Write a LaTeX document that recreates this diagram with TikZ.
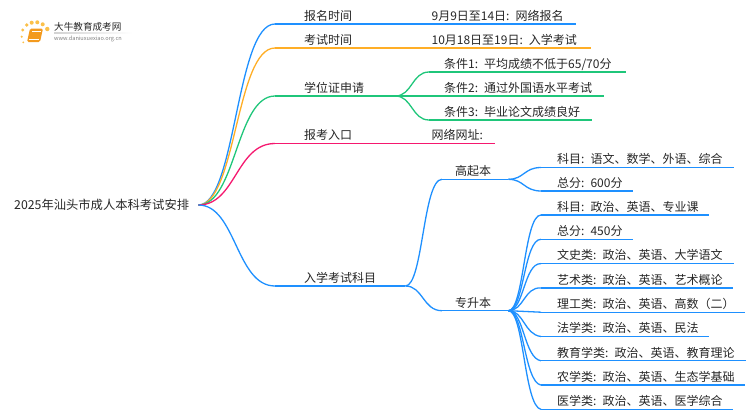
\documentclass[tikz,border=0pt]{standalone}
\usepackage{fontspec}
\usetikzlibrary{positioning}
\setmainfont{Noto Sans CJK SC}
\definecolor{blueln}{HTML}{1E90FF}
\definecolor{orangeln}{HTML}{FFAE26}
\definecolor{greenln}{HTML}{1FC67A}
\definecolor{pinkln}{HTML}{F5186F}
\definecolor{inkc}{HTML}{262626}
\definecolor{sunc}{HTML}{FBC04A}
\definecolor{bookc}{HTML}{F39A1E}
\begin{document}
\begin{tikzpicture}[x=1pt, y=-1pt, font=\fontsize{12}{14}\selectfont, text=inkc,
    main/.style = {anchor=south west, inner sep=0pt, text height=10.5pt, text depth=3.5pt, align=left},
    lead/.style = {main, execute at begin node={\hspace*{29pt}}},
    mid/.style = {main, execute at begin node={\hspace*{13pt}}},
    note/.style = {main, execute at begin node={\hspace*{11pt}}},
    cond/.style = {main, execute at begin node={\hspace*{15pt}}},
    leaf/.style = {main, execute at begin node={\hspace*{16pt}}},
    ln/.style = {line width=1.3pt}]
    \useasboundingbox (0,0) rectangle (750,410);
    % logo
    \fill[sunc] (22.7,30) circle (1.6pt);
    \fill[sunc] (26.7,25) circle (1.9pt);
    \fill[sunc] (31.7,22.7) circle (2pt);
    \fill[sunc] (37.3,22.3) circle (2pt);
    \fill[sunc] (42.7,24.3) circle (2pt);
    \fill[sunc] (47.3,29) circle (2.2pt);
    \fill[sunc] (21.7,36.7) circle (1.2pt);
    \fill[sunc] (23.3,42.3) circle (1pt);
    \fill[bookc, rounded corners=1.5pt] (30,28.5) -- (43,28.5) -- (40,42) -- (27,42) -- cycle;
    \draw[white, line width=0.6pt] (32,31.5) -- (41,31.5);
    \draw[white, line width=0.6pt] (29,39.5) -- (38.5,39.5);
    \node[anchor=west, inner sep=0pt, font=\fontsize{9.6}{11}\selectfont] (logoname) at (54,27) {大牛教育成考网};
    \node[anchor=west, inner sep=0pt, font=\fontsize{5.6}{6}\selectfont, text=gray] (logourl) at (54,38.5) {www.daniuxuexiao.org.cn};
    \shade[left color=gray!35, right color=white] (54,32.9) rectangle (132,33.6);
    % root
    \node[anchor=west, inner sep=0pt, text width=184pt, align=left, font=\fontsize{12.3}{14}\selectfont] (root) at (14,205) {2025年汕头市成人本科考试安排};
    % first level
    \node[lead, text width=145pt] (t0) at (275,24) {报名时间};
    \node[lead, text width=145pt] (t1) at (275,48) {考试时间};
    \node[lead, text width=120pt] (t2) at (275,96) {学位证申请};
    \node[lead, text width=145pt] (t3) at (275,143.5) {报考入口};
    \node[lead, text width=130pt] (t4) at (275,286) {入学考试科目};
    % second level
    \node[note, text width=155pt] (d0) [right=0pt of t0.south east, anchor=south west] {9月9日至14日: 网络报名};
    \node[note, text width=170pt] (d1) [right=0pt of t1.south east, anchor=south west] {10月18日至19日: 入学考试};
    \node[note, text width=74pt] (d3) [right=0pt of t3.south east, anchor=south west] {网络网址:};
    \node[cond, text width=197pt] (c0) at (429,72) {条件1: 平均成绩不低于65/70分};
    \node[cond, text width=175pt] (c1) at (429,96) {条件2: 通过外国语水平考试};
    \node[cond, text width=163pt] (c2) at (429,120) {条件3: 毕业论文成绩良好};
    \node[mid, text width=66pt] (g0) at (442,179.3) {高起本};
    \node[mid, text width=66pt] (g1) at (442,310.7) {专升本};
    % third level
    \node[leaf, text width=193pt] (k0) at (541,167.5) {科目: 语文、数学、外语、综合};
    \node[leaf, text width=92pt] (k1) at (541,191) {总分: 600分};
    \node[leaf, text width=168pt] (z0) at (541,215) {科目: 政治、英语、专业课};
    \node[leaf, text width=92pt] (z1) [below=9.9pt of z0.south west, anchor=north west] {总分: 450分};
    \node[leaf, text width=193pt] (z2) [below=9.9pt of z1.south west, anchor=north west] {文史类: 政治、英语、大学语文};
    \node[leaf, text width=192pt] (z3) [below=9.9pt of z2.south west, anchor=north west] {艺术类: 政治、英语、艺术概论};
    \node[leaf, text width=204pt] (z4) [below=9.9pt of z3.south west, anchor=north west] {理工类: 政治、英语、高数（二）};
    \node[leaf, text width=168pt] (z5) [below=9.9pt of z4.south west, anchor=north west] {法学类: 政治、英语、民法};
    \node[leaf, text width=205pt] (z6) [below=9.9pt of z5.south west, anchor=north west] {教育学类: 政治、英语、教育理论};
    \node[leaf, text width=204pt] (z7) [below=9.9pt of z6.south west, anchor=north west] {农学类: 政治、英语、生态学基础};
    \node[leaf, text width=192pt] (z8) [below=9.9pt of z7.south west, anchor=north west] {医学类: 政治、英语、医学综合};
    % underlines
    \draw[ln, blueln] (t0.south west) -- (t0.south east);
    \draw[ln, blueln] (d0.south west) -- (d0.south east);
    \draw[ln, orangeln] (t1.south west) -- (t1.south east);
    \draw[ln, orangeln] (d1.south west) -- (d1.south east);
    \draw[ln, greenln] (t2.south west) -- (t2.south east);
    \draw[ln, greenln] (c0.south west) -- (c0.south east);
    \draw[ln, greenln] (c1.south west) -- (c1.south east);
    \draw[ln, greenln] (c2.south west) -- (c2.south east);
    \draw[ln, pinkln] (t3.south west) -- (t3.south east);
    \draw[ln, pinkln] (d3.south west) -- (d3.south east);
    \draw[ln, blueln] (t4.south west) -- (t4.south east);
    \draw[ln, blueln] (g0.south west) -- (g0.south east);
    \draw[ln, blueln] (g1.south west) -- (g1.south east);
    \draw[ln, blueln] (k0.south west) -- (k0.south east);
    \draw[ln, blueln] (k1.south west) -- (k1.south east);
    \draw[ln, blueln] (z0.south west) -- (z0.south east);
    \draw[ln, blueln] (z1.south west) -- (z1.south east);
    \draw[ln, blueln] (z2.south west) -- (z2.south east);
    \draw[ln, blueln] (z3.south west) -- (z3.south east);
    \draw[ln, blueln] (z4.south west) -- (z4.south east);
    \draw[ln, blueln] (z5.south west) -- (z5.south east);
    \draw[ln, blueln] (z6.south west) -- (z6.south east);
    \draw[ln, blueln] (z7.south west) -- (z7.south east);
    \draw[ln, blueln] (z8.south west) -- (z8.south east);
    % curves
    \draw[ln, blueln] (root.east) .. controls (236,205) and (236,24) .. (t0.south west);
    \draw[ln, orangeln] (root.east) .. controls (236,205) and (236,48) .. (t1.south west);
    \draw[ln, greenln] (root.east) .. controls (236,205) and (236,96) .. (t2.south west);
    \draw[ln, pinkln] (root.east) .. controls (236,205) and (236,143.5) .. (t3.south west);
    \draw[ln, blueln] (root.east) .. controls (236,205) and (236,286) .. (t4.south west);
    \draw[ln, greenln] (t2.south east) .. controls (412,96) and (412,72) .. (c0.south west);
    \draw[ln, greenln] (t2.south east) -- (c1.south west);
    \draw[ln, greenln] (t2.south east) .. controls (412,96) and (412,120) .. (c2.south west);
    \draw[ln, blueln] (t4.south east) .. controls (423,286) and (423,179.3) .. (g0.south west);
    \draw[ln, blueln] (t4.south east) .. controls (423,286) and (423,310.7) .. (g1.south west);
    \draw[ln, blueln] (g0.south east) .. controls (524,179.3) and (524,167.5) .. (k0.south west);
    \draw[ln, blueln] (g0.south east) .. controls (524,179.3) and (524,191) .. (k1.south west);
    \draw[ln, blueln] (g1.south east) .. controls (524,310.7) and (524,215) .. (z0.south west);
    \draw[ln, blueln] (g1.south east) .. controls (524,310.7) and (524,239) .. (z1.south west);
    \draw[ln, blueln] (g1.south east) .. controls (524,310.7) and (524,263) .. (z2.south west);
    \draw[ln, blueln] (g1.south east) .. controls (524,310.7) and (524,287) .. (z3.south west);
    \draw[ln, blueln] (g1.south east) -- (z4.south west);
    \draw[ln, blueln] (g1.south east) .. controls (524,310.7) and (524,334.5) .. (z5.south west);
    \draw[ln, blueln] (g1.south east) .. controls (524,310.7) and (524,358) .. (z6.south west);
    \draw[ln, blueln] (g1.south east) .. controls (524,310.7) and (524,382) .. (z7.south west);
    \draw[ln, blueln] (g1.south east) .. controls (524,310.7) and (524,406) .. (z8.south west);
\end{tikzpicture}
\end{document}
